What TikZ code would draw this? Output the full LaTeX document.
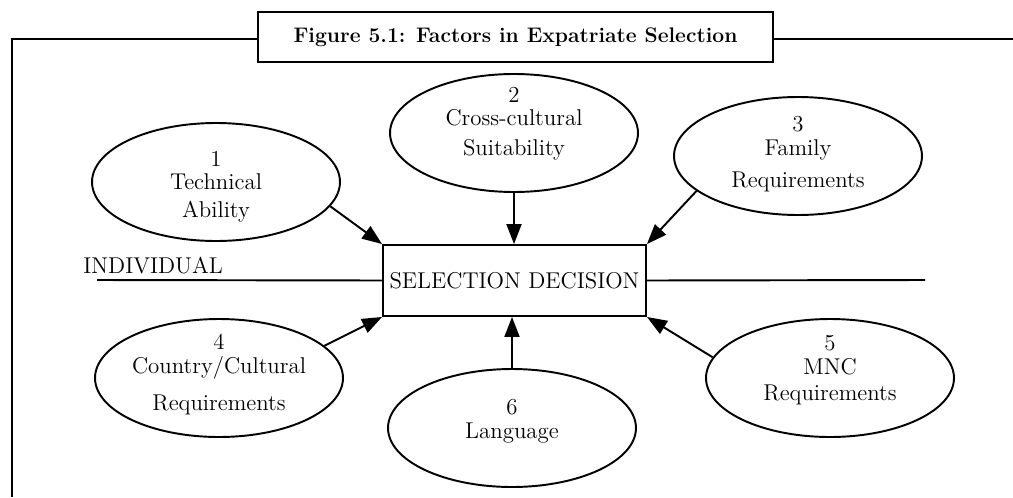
\documentclass[tikz,border=0pt]{standalone}
\usepackage{fontspec}
\usepackage{tikz}
\usetikzlibrary{arrows.meta,positioning,shapes.geometric}

\begin{document}
\begin{tikzpicture}[x=0.02cm,y=-0.02cm,% pixel units, y grows downwards
			every node/.style={
				align=center,  		% so that "\\" breaks the lines
				font=\fontsize{13}{13.6}\selectfont
			},
			oval/.style={ellipse,draw,line width=1.1pt,minimum width=4.96cm,minimum height=2.36cm,inner sep=0pt},
			ftext/.style={yshift=#1},	% text sits a little off the middle
			every edge/.style={draw,line width=1.1pt},
			tip/.style={-{Triangle[length=0.4cm,width=0.3cm]}}
		]
		\useasboundingbox (0,0) rectangle (1013,497);
		% title and frame
		\node[rectangle,draw,line width=1.5pt,minimum width=10.3cm,minimum height=1cm,font=\bfseries\fontsize{12}{15}\selectfont](T) at (515.5,37){Figure 5.1: Factors in Expatriate Selection};
		\coordinate (FTL) at (12,39);
		\coordinate (FBL) at (12,497);
		\coordinate (FTR) at (1013,39);
		\draw[line width=1.5pt] (FBL) -- (FTL) -- (T.west |- FTL);
		\draw[line width=1.5pt] (T.east |- FTR) -- (FTR);
		% decision box
		\node[rectangle,draw,line width=1.1pt,minimum width=5.26cm,minimum height=1.42cm](D) at (514.5,280.5){SELECTION DECISION};
		\node[anchor=base west,inner sep=0pt](I) at (83,273){INDIVIDUAL};
		\coordinate (HL) at (97,280);
		\coordinate (HR) at (925,280);
		\draw[line width=1.1pt] (HL) -- (D.west);
		\draw[line width=1.1pt] (D.east) -- (HR);
		% factors
		\node[oval,label={[ftext=-2.5pt]center:{1\\Technical\\[2pt]Ability}}](E1) at (216,182){};
		\node[oval,label={[ftext=5.5pt]center:{2\\Cross-cultural\\[3pt]Suitability}}](E2) at (514,133){};
		\node[oval,label={[ftext=1pt]center:{3\\Family\\[4.5pt]Requirements}}](E3) at (798,156){};
		\node[oval,label={[ftext=2pt]center:{4\\Country/Cultural\\[7pt]Requirements}}](E4) at (219,378){};
		\node[oval,label={[ftext=4.5pt]center:{5\\MNC\\[1pt]Requirements}}](E5) at (830,378){};
		\node[oval,label={[ftext=3.8pt]center:{6\\Language}}](E6) at (512,428){};
		\path[tip]
		(E1.-12)edge []	node [] {} (D.north west)
		(E2)edge []	node [] {} (D.north -| E2)
		(E3.199)edge []	node [] {} (D.north east)
		(E4.17)edge []	node [] {} (D.south west)
		(E5.170)edge []	node [] {} (D.south east)
		(E6)edge []	node [] {} (D.south -| E6)
		;
	\end{tikzpicture}
\end{document}
